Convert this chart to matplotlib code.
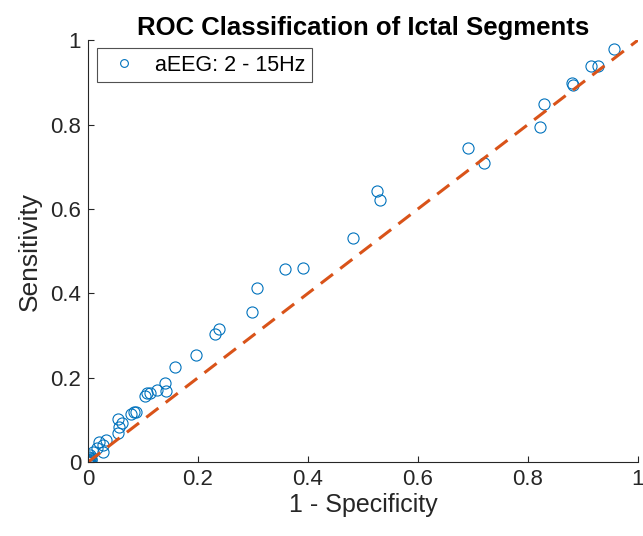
import matplotlib
matplotlib.use('Agg')
import matplotlib.pyplot as plt
import numpy as np

plt.rcParams['font.family'] = ['Liberation Sans', 'DejaVu Sans']

# ROC points (1 - specificity, sensitivity)
fpr = [0.956, 0.915, 0.927, 0.880, 0.882, 0.829, 0.822, 0.691, 0.720,
       0.525, 0.531, 0.482, 0.358, 0.391, 0.307, 0.298, 0.238, 0.231,
       0.196, 0.158, 0.140, 0.142, 0.125, 0.113, 0.107, 0.104,
       0.084, 0.078, 0.088, 0.062, 0.055, 0.056, 0.055,
       0.033, 0.027, 0.020, 0.016, 0.027, 0.009, 0.004,
       0.003, 0.002, 0.001, 0.000, 0.005, 0.006, 0.002, 0.001]
tpr = [0.979, 0.938, 0.938, 0.898, 0.893, 0.848, 0.794, 0.744, 0.709,
       0.642, 0.621, 0.531, 0.457, 0.459, 0.412, 0.355, 0.315, 0.303,
       0.253, 0.225, 0.187, 0.168, 0.171, 0.163, 0.163, 0.156,
       0.118, 0.114, 0.118, 0.092, 0.102, 0.083, 0.069,
       0.052, 0.040, 0.047, 0.033, 0.024, 0.024, 0.017,
       0.010, 0.006, 0.003, 0.000, 0.008, 0.004, 0.012, 0.001]

chance = [0, 1]

fig = plt.figure(figsize=(6.43, 5.36), dpi=100)
ax = fig.add_axes([0.137, 0.138, 0.855, 0.787])

ax.plot(fpr, tpr, 'o', mfc='none', mec='#0072BD', ms=8, mew=0.8,
        label='aEEG: 2 - 15Hz')
ax.plot(chance, chance, '--', color='#D95319', lw=2.2, dashes=(5, 3))

ax.set_xlim(0, 1)
ax.set_ylim(0, 1)
ticks = [0, 0.2, 0.4, 0.6, 0.8, 1]
labs = ['0', '0.2', '0.4', '0.6', '0.8', '1']
ax.set_xticks(ticks)
ax.set_xticklabels(labs)
ax.set_yticks(ticks)
ax.set_yticklabels(labs)
ax.tick_params(direction='in', labelsize=16, colors='#262626', length=4, pad=5)
ax.spines['top'].set_visible(False)
ax.spines['right'].set_visible(False)
for s in ['left', 'bottom']:
    ax.spines[s].set_color('#262626')

ax.set_xlabel('1 - Specificity', fontsize=18, color='#262626', labelpad=2)
ax.set_ylabel('Sensitivity', fontsize=19, color='#262626', labelpad=6)
ax.set_title('ROC Classification of Ictal Segments', fontsize=18.5,
             fontweight='bold', pad=3)

leg = ax.legend(loc='upper left', fontsize=15.5, fancybox=False,
                edgecolor='#262626', borderaxespad=0.0, handletextpad=0.5,
                markerscale=0.7, borderpad=0.3, handlelength=1.9,
                bbox_to_anchor=(0.016, 0.981))
leg.get_frame().set_linewidth(0.8)

fig.savefig('out.png', dpi=100)
